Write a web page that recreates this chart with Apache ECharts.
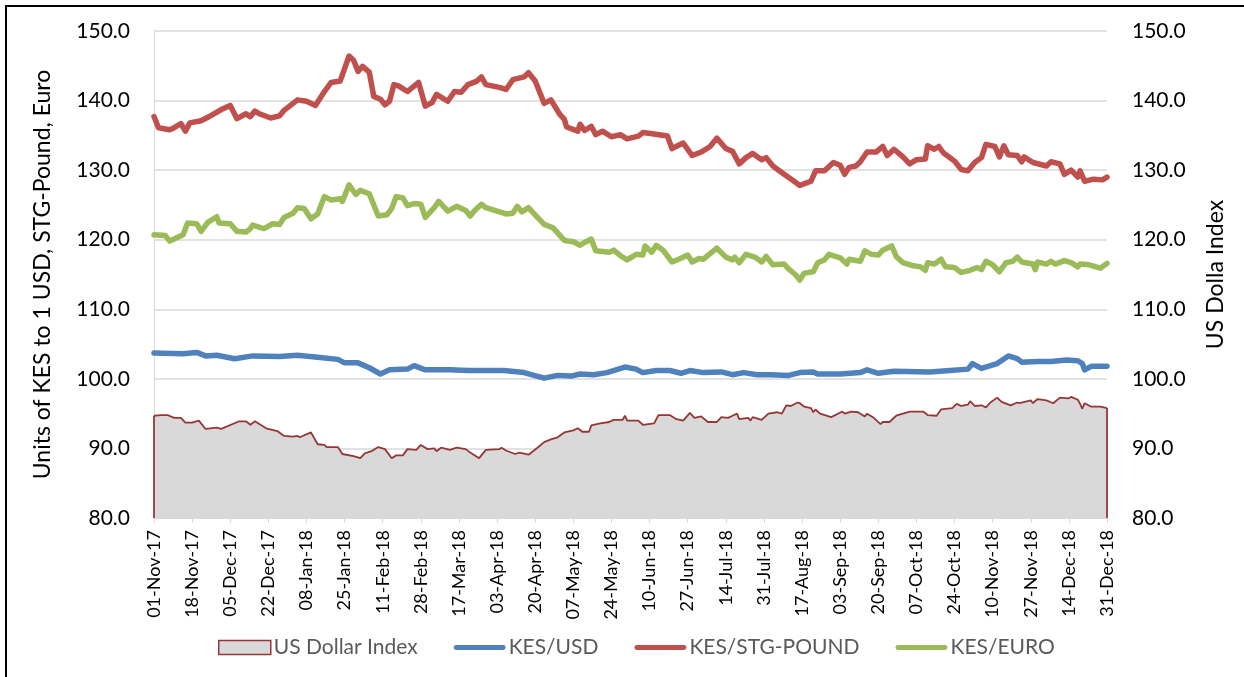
<!DOCTYPE html>
<html>
<head>
<meta charset="utf-8">
<script src="https://cdn.jsdelivr.net/npm/echarts@6/dist/echarts.min.js"></script>
<style>
  html, body { margin: 0; padding: 0; background: #fff; }
  #chart { width: 1244px; height: 677px; position: absolute; left: 0; top: 0; }
  #frame { position: absolute; left: 5px; top: 5px; width: 1300px; height: 700px;
           border-left: 2px solid #000; border-top: 2px solid #000; pointer-events: none; }
</style>
</head>
<body>
<div id="chart"></div>
<div id="frame"></div>
<script>
// x = days since 01-Nov-17, one tick label every 17 days
const dateTicks = ['01-Nov-17','18-Nov-17','05-Dec-17','22-Dec-17','08-Jan-18','25-Jan-18','11-Feb-18','28-Feb-18',
  '17-Mar-18','03-Apr-18','20-Apr-18','07-May-18','24-May-18','10-Jun-18','27-Jun-18','14-Jul-18','31-Jul-18',
  '17-Aug-18','03-Sep-18','20-Sep-18','07-Oct-18','24-Oct-18','10-Nov-18','27-Nov-18','14-Dec-18','31-Dec-18'];

// [day, value]
const usDollarIndex = [[0,94.7],[3,94.8],[6,94.8],[9,94.4],[12,94.4],[14,93.7],[17,93.7],[20,94.0],[23,92.8],[28,93.0],[30,92.8],
  [38,93.9],[41,93.9],[43,93.4],[45,93.9],[50,92.9],[55,92.5],[58,91.8],[62,91.7],[64,91.8],[65,91.6],[70,92.3],[73,90.6],
  [76,90.5],[77,90.2],[82,90.2],[84,89.2],[89,88.9],[92,88.6],[94,89.3],[97,89.6],[100,90.2],[103,89.9],[106,88.6],[108,89.0],
  [111,89.0],[113,89.9],[117,89.8],[119,90.5],[122,89.9],[125,90.0],[126,89.6],[128,90.1],[132,89.8],[135,90.1],[139,89.9],
  [141,89.4],[145,88.6],[148,89.8],[154,89.9],[155,90.1],[157,89.7],[161,89.2],[163,89.4],[167,89.1],[171,90.1],[174,90.9],
  [177,91.3],[180,91.6],[183,92.3],[187,92.6],[189,92.9],[191,92.4],[194,92.4],[195,93.3],[199,93.6],[203,93.8],[205,94.1],
  [209,94.1],[210,94.7],[211,94.0],[216,94.0],[218,93.4],[223,93.6],[225,94.8],[230,94.8],[233,94.2],[236,94.0],[239,95.1],
  [241,94.4],[244,94.6],[247,93.8],[251,93.8],[253,94.5],[256,94.4],[258,94.7],[260,95.0],[261,94.2],[265,94.4],[266,94.0],
  [267,94.5],[271,94.1],[274,95.0],[278,95.2],[280,95.0],[282,96.2],[284,96.1],[287,96.6],[288,96.5],[290,96.0],[293,95.8],
  [294,95.2],[295,95.6],[297,95.0],[302,94.5],[307,95.3],[308,95.0],[311,95.3],[314,95.2],[317,94.6],[318,95.0],[321,94.4],
  [324,93.5],[325,93.8],[328,93.8],[331,94.7],[334,95.0],[337,95.3],[343,95.3],[345,94.8],[349,94.7],[351,95.6],[356,95.8],
  [358,96.4],[360,96.1],[363,96.3],[364,96.8],[366,96.1],[369,96.2],[371,95.9],[373,96.6],[376,97.3],[378,96.7],[382,96.2],
  [385,96.6],[386,96.5],[391,96.9],[392,96.5],[394,97.1],[398,96.9],[401,96.5],[404,97.3],[408,97.2],[409,97.4],[412,97.0],
  [413,96.4],[414,95.7],[415,96.5],[418,96.0],[422,96.0],[425,95.8]];

const kesUsd = [[0,103.7],[13,103.6],[19,103.8],[23,103.3],[28,103.4],[36,102.9],[44,103.3],[56,103.2],[64,103.4],[73,103.1],
  [82,102.8],[85,102.3],[91,102.3],[96,101.6],[101,100.7],[105,101.3],[113,101.4],[116,101.9],[121,101.3],[132,101.3],
  [140,101.2],[156,101.2],[165,100.9],[174,100.1],[180,100.5],[186,100.4],[190,100.7],[196,100.6],[202,100.9],[206,101.3],
  [210,101.7],[215,101.4],[218,100.9],[224,101.2],[230,101.2],[235,100.8],[239,101.2],[245,100.9],[253,101.0],[258,100.6],
  [263,100.9],[269,100.6],[275,100.6],[283,100.5],[288,100.9],[294,101.0],[296,100.7],[306,100.7],[315,100.9],[318,101.3],
  [323,100.8],[330,101.1],[346,101.0],[355,101.2],[363,101.4],[365,102.2],[369,101.5],[376,102.2],[381,103.3],[385,102.9],
  [387,102.4],[394,102.5],[400,102.5],[407,102.7],[412,102.6],[414,102.2],[415,101.3],[418,101.8],[425,101.8]];

const kesGbp = [[0,137.7],[2,136.1],[7,135.8],[9,136.1],[12,136.7],[14,135.6],[16,136.8],[21,137.1],[24,137.6],[30,138.7],
  [34,139.3],[37,137.4],[41,138.1],[43,137.7],[45,138.5],[47,138.1],[52,137.5],[56,137.8],[58,138.6],[64,140.1],[68,139.9],
  [72,139.3],[76,141.3],[79,142.6],[83,142.8],[87,146.4],[89,145.8],[91,144.2],[93,144.9],[96,144.1],[98,140.6],[101,140.2],
  [103,139.4],[105,139.9],[107,142.3],[109,142.1],[113,141.3],[118,142.6],[121,139.2],[124,139.7],[126,140.9],[131,139.9],
  [134,141.3],[137,141.2],[140,142.3],[144,142.8],[146,143.4],[148,142.3],[154,141.9],[157,141.6],[160,143.0],[165,143.4],
  [167,144.0],[170,142.8],[174,139.6],[177,140.1],[181,138.0],[183,137.3],[184,136.2],[189,135.6],[190,136.6],[192,135.7],
  [195,136.3],[197,135.1],[200,135.6],[204,134.8],[208,135.1],[211,134.5],[216,134.9],[218,135.4],[223,135.2],[229,134.9],
  [231,133.1],[236,133.9],[240,132.1],[244,132.6],[248,133.4],[251,134.6],[255,133.1],[258,132.7],[261,130.9],[264,131.8],
  [267,132.4],[271,131.5],[273,131.8],[276,130.6],[281,129.4],[285,128.5],[288,127.8],[293,128.4],[295,129.9],[299,129.9],
  [303,131.1],[306,130.7],[308,129.4],[310,130.4],[313,130.6],[315,131.2],[318,132.6],[322,132.6],[325,133.4],[327,132.1],
  [330,133.0],[334,131.9],[337,130.9],[340,131.5],[344,131.6],[345,133.5],[348,133.0],[350,133.4],[352,132.5],[357,131.3],
  [360,130.1],[363,129.9],[366,131.1],[369,131.8],[371,133.7],[375,133.4],[377,131.9],[379,133.5],[381,132.2],[385,132.1],
  [387,131.2],[388,131.9],[392,131.1],[398,130.6],[400,131.2],[404,130.9],[406,129.4],[409,130.0],[412,129.0],[413,129.9],
  [415,128.4],[419,128.7],[423,128.6],[425,129.0]];

const kesEur = [[0,120.7],[5,120.6],[7,119.8],[13,120.7],[15,122.4],[19,122.3],[21,121.2],[24,122.5],[28,123.3],[29,122.4],
  [34,122.3],[37,121.2],[41,121.1],[43,121.6],[44,122.1],[49,121.6],[53,122.3],[56,122.2],[58,123.2],[62,123.8],[64,124.6],
  [67,124.5],[70,123.0],[73,123.7],[76,126.2],[79,125.7],[83,125.9],[84,125.5],[87,127.9],[90,126.5],[92,127.1],[96,126.6],
  [100,123.4],[104,123.6],[106,124.5],[108,126.2],[111,126.0],[113,124.9],[116,125.2],[119,125.1],[121,123.2],[125,124.6],
  [127,125.5],[131,124.1],[135,124.8],[139,124.2],[141,123.4],[143,124.2],[146,125.1],[148,124.6],[153,124.1],[157,123.7],
  [160,123.8],[162,124.8],[164,124.0],[167,124.6],[169,123.9],[174,122.2],[178,121.7],[183,119.9],[187,119.7],[190,119.2],
  [192,119.6],[195,120.1],[197,118.4],[203,118.2],[205,118.5],[208,117.7],[211,117.1],[215,117.9],[218,117.8],[219,119.1],
  [222,118.2],[224,119.2],[227,118.5],[231,116.8],[234,117.2],[238,117.8],[240,116.8],[243,117.3],[245,117.2],[251,118.8],
  [255,117.5],[258,117.1],[259,117.5],[261,116.7],[264,117.9],[268,117.5],[271,116.8],[273,117.6],[276,116.4],[281,116.5],
  [283,115.8],[286,115.0],[288,114.2],[290,115.2],[294,115.4],[296,116.7],[299,117.1],[301,117.9],[306,117.4],[309,116.5],
  [310,117.2],[315,116.9],[317,118.4],[320,117.9],[323,117.8],[325,118.5],[329,119.1],[331,117.6],[334,116.7],[338,116.3],
  [342,116.1],[344,115.6],[345,116.7],[348,116.5],[351,117.2],[353,116.1],[357,116.0],[360,115.3],[364,115.6],[367,116.0],
  [369,115.7],[371,116.9],[374,116.4],[377,115.4],[380,116.7],[383,116.9],[385,117.5],[387,116.8],[392,116.5],[393,115.7],
  [394,116.8],[398,116.5],[400,116.9],[402,116.5],[406,117.0],[409,116.7],[412,116.1],[413,116.5],[417,116.4],[422,115.9],
  [425,116.6]];

const FONT = 'Lato';
const gridColor = '#d9d9d9';
const areaEdge = '#953735';
// legend swatch for the lines: a 5px bar in a 52x14 box
const lineIcon = 'path://M0,0 M52,14 M2,4.5 L50,4.5 A2.5,2.5 0 0 1 50,9.5 L2,9.5 A2.5,2.5 0 0 1 2,4.5 Z';

let myChart = echarts.init(document.getElementById('chart'));

const first = usDollarIndex[0];
const last = usDollarIndex[usDollarIndex.length - 1];

myChart.setOption({
  animation: false,
  textStyle: { fontFamily: FONT },
  grid: { left: 154, right: 137, top: 31, bottom: 159 },
  legend: {
    left: 213, top: 632,
    itemWidth: 52, itemHeight: 14, itemGap: 36,
    textStyle: { fontFamily: FONT, fontSize: 21, color: '#595959', padding: [0, 0, 0, -2] },
    data: [
      { name: 'US Dollar Index', icon: 'rect', itemStyle: { color: '#d9d9d9', borderColor: areaEdge, borderWidth: 1.5 } },
      { name: 'KES/USD', icon: lineIcon, itemStyle: { color: '#4f81bd' } },
      { name: 'KES/STG-POUND', icon: lineIcon, itemStyle: { color: '#c0504d' } },
      { name: 'KES/EURO', icon: lineIcon, itemStyle: { color: '#9bbb59' } }
    ]
  },
  xAxis: {
    type: 'value', min: 0, max: 425, interval: 17,
    axisLine: { show: true, lineStyle: { color: gridColor, width: 1 } },
    axisTick: { show: true, length: 5, lineStyle: { color: gridColor } },
    splitLine: { show: false },
    axisLabel: {
      rotate: 90, margin: 12, fontSize: 18, color: '#000', fontFamily: FONT,
      formatter: v => dateTicks[Math.round(v / 17)]
    }
  },
  yAxis: [
    {
      type: 'value', min: 80, max: 150, interval: 10, position: 'left',
      name: 'Units of KES to 1 USD, STG-Pound, Euro', nameLocation: 'middle', nameRotate: 90, nameGap: 100,
      nameTextStyle: { fontSize: 23, color: '#000', fontFamily: FONT },
      axisLine: { show: true, lineStyle: { color: gridColor } },
      axisTick: { show: false },
      splitLine: { show: true, lineStyle: { color: gridColor, width: 1.5 } },
      axisLabel: { fontSize: 21, color: '#000', margin: 24, formatter: v => v.toFixed(1) }
    },
    {
      type: 'value', min: 80, max: 150, interval: 10, position: 'right',
      name: 'US Dolla Index', nameLocation: 'middle', nameRotate: 90, nameGap: 97,
      nameTextStyle: { fontSize: 23, color: '#000', fontFamily: FONT },
      axisLine: { show: false },
      axisTick: { show: false },
      splitLine: { show: false },
      axisLabel: { fontSize: 21, color: '#000', margin: 25, formatter: v => v.toFixed(1) }
    }
  ],
  series: [
    {
      name: 'US Dollar Index', type: 'line', yAxisIndex: 1, data: usDollarIndex,
      showSymbol: false, symbol: 'none',
      lineStyle: { color: areaEdge, width: 1.8 },
      itemStyle: { color: areaEdge },
      areaStyle: { color: '#d9d9d9', opacity: 1, origin: 'start' },
      markLine: {
        silent: true, symbol: 'none', label: { show: false },
        lineStyle: { color: areaEdge, width: 1.8, type: 'solid' },
        data: [
          [{ coord: [first[0], 80] }, { coord: [first[0], first[1]] }],
          [{ coord: [last[0], 80] }, { coord: [last[0], last[1]] }]
        ]
      }
    },
    {
      name: 'KES/USD', type: 'line', data: kesUsd, showSymbol: false, symbol: 'none',
      lineStyle: { color: '#4f81bd', width: 5.5, cap: 'round', join: 'round' }, itemStyle: { color: '#4f81bd' }
    },
    {
      name: 'KES/STG-POUND', type: 'line', data: kesGbp, showSymbol: false, symbol: 'none',
      lineStyle: { color: '#c0504d', width: 5.5, cap: 'round', join: 'round' }, itemStyle: { color: '#c0504d' }
    },
    {
      name: 'KES/EURO', type: 'line', data: kesEur, showSymbol: false, symbol: 'none',
      lineStyle: { color: '#9bbb59', width: 5.5, cap: 'round', join: 'round' }, itemStyle: { color: '#9bbb59' }
    }
  ]
});
</script>
</body>
</html>
